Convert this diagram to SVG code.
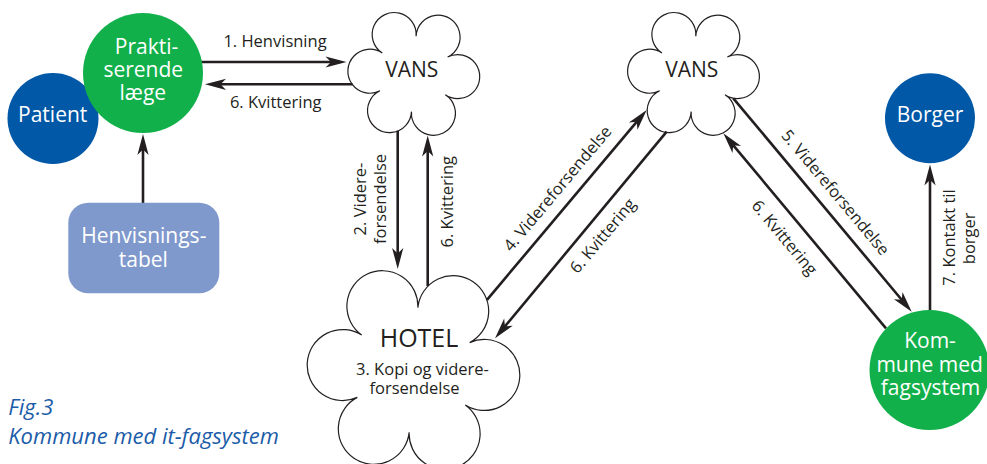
<svg xmlns="http://www.w3.org/2000/svg" width="987" height="464" viewBox="0 0 987 464">
<style>
.cloud{fill:#fff;stroke:#231f20;stroke-width:1.2}
.conn{fill:none;stroke:#231f20;stroke-width:2.6;marker-end:url(#ah)}
.nt{font-family:"Open Sans","Noto Sans","Liberation Sans",sans-serif;font-size:21px;fill:#fff;text-anchor:middle}
.ct{font-family:"Open Sans","Noto Sans","Liberation Sans",sans-serif;fill:#231f20;text-anchor:middle}
.lb{font-family:"Open Sans","Noto Sans","Liberation Sans",sans-serif;font-size:16.5px;fill:#231f20;text-anchor:middle}
.cap{font-family:"Open Sans","Noto Sans","Liberation Sans",sans-serif;font-size:22px;font-style:italic;fill:#1c5ca8}
.green{fill:#12b04b}
.blue{fill:#0058a7}
</style>
<defs>
<marker id="ah" viewBox="-22 -6 23 12" refX="-14" refY="0" markerWidth="23" markerHeight="12" markerUnits="userSpaceOnUse" orient="auto">
<path d="M0,0 L-21,-5.6 L-15.5,0 L-21,5.6 Z" fill="#231f20"/>
</marker>
<path id="cloudS" d="M0,-37.8 A22,22 0 1 1 32.74,-18.9 A22,22 0 1 1 32.74,18.9 A22,22 0 1 1 0,37.8 A22,22 0 1 1 -32.74,18.9 A22,22 0 1 1 -32.74,-18.9 A22,22 0 1 1 0,-37.8 Z"/>
</defs>

<g id="vans1">
<use href="#cloudS" class="cloud" transform="translate(413.8,73.9) rotate(3.5)"/>
<text class="ct" x="411.7" y="76.7" font-size="21">VANS</text>
</g>
<g id="vans2">
<use href="#cloudS" class="cloud" transform="translate(693.5,73.9) rotate(3.5)"/>
<text class="ct" x="691.7" y="76.7" font-size="21">VANS</text>
</g>
<g id="hotel">
<path class="cloud" transform="translate(413.5,370) rotate(4)" d="M0,-62.5 A35.5,35.5 0 1 1 54.13,-31.25 A35.5,35.5 0 1 1 54.13,31.25 A35.5,35.5 0 1 1 0,62.5 A35.5,35.5 0 1 1 -54.13,31.25 A35.5,35.5 0 1 1 -54.13,-31.25 A35.5,35.5 0 1 1 0,-62.5 Z"/>
<text class="ct" x="419" y="347.3" font-size="25">HOTEL</text>
<text class="lb" x="422.5" y="375">3. Kopi og videre-</text>
<text class="lb" x="414.5" y="394">forsendelse</text>
</g>

<g id="connectors">
<line class="conn" x1="200" y1="62" x2="332.5" y2="62"/>
<line class="conn" x1="352.5" y1="84.3" x2="219" y2="84.3"/>
<line class="conn" x1="143" y1="210" x2="143" y2="148"/>
<line class="conn" x1="397.7" y1="130.7" x2="397.7" y2="255"/>
<line class="conn" x1="427.7" y1="286" x2="427.7" y2="149.5"/>
<line class="conn" x1="487" y1="299.8" x2="637.7" y2="120.7"/>
<line class="conn" x1="666.7" y1="131.7" x2="504" y2="327.5"/>
<line class="conn" x1="733.3" y1="98.3" x2="902.7" y2="301"/>
<line class="conn" x1="886" y1="328.3" x2="732.3" y2="144.1"/>
<line class="conn" x1="930" y1="314" x2="930" y2="178.5"/>
<text class="lb" x="275" y="46.7">1. Henvisning</text>
<text class="lb" x="275.7" y="108.3">6. Kvittering</text>
<text class="lb" transform="translate(365.7,199) rotate(-90)">2. Videre-</text>
<text class="lb" transform="translate(385.5,199) rotate(-90)">forsendelse</text>
<text class="lb" transform="translate(452.5,201.7) rotate(-90)">6. Kvittering</text>
<text class="lb" transform="translate(561.8,192.2) rotate(-50)">4. Videreforsendelse</text>
<text class="lb" transform="translate(607,239.5) rotate(-50)">6. Kvittering</text>
<text class="lb" transform="translate(831.2,196.2) rotate(50)">5. Videreforsendelse</text>
<text class="lb" transform="translate(780.2,241.2) rotate(50)">6. Kvittering</text>
<text class="lb" transform="translate(955,237.5) rotate(-90)">7. Kontakt til</text>
<text class="lb" transform="translate(975,238.3) rotate(-90)">borger</text>
</g>

<g id="patient">
<circle class="blue" cx="53" cy="118.5" r="45.5"/>
<text class="nt" x="52.7" y="121.7">Patient</text>
</g>
<g id="praktiserende">
<circle class="green" cx="143" cy="73" r="60"/>
<text class="nt" x="146.5" y="54.3">Prakti-</text>
<text class="nt" x="143.3" y="77.3">serende</text>
<text class="nt" x="142.8" y="100">læge</text>
</g>
<g id="henvisningstabel">
<rect x="68.3" y="202.7" width="151" height="90.6" rx="20" fill="#7f99cc"/>
<text class="nt" x="143.8" y="242.7">Henvisnings-</text>
<text class="nt" x="143.3" y="266.7">tabel</text>
</g>
<g id="borger">
<circle class="blue" cx="930" cy="118.3" r="45"/>
<text class="nt" x="930" y="121.7">Borger</text>
</g>
<g id="kommune">
<circle class="green" cx="929.5" cy="370" r="60"/>
<text class="nt" x="930" y="348.3">Kom-</text>
<text class="nt" x="929.7" y="371.7">mune med</text>
<text class="nt" x="930.5" y="395">fagsystem</text>
</g>

<g id="caption">
<text class="cap" x="8.3" y="415">Fig.3</text>
<text class="cap" x="8.3" y="444">Kommune med it-fagsystem</text>
</g>
</svg>
